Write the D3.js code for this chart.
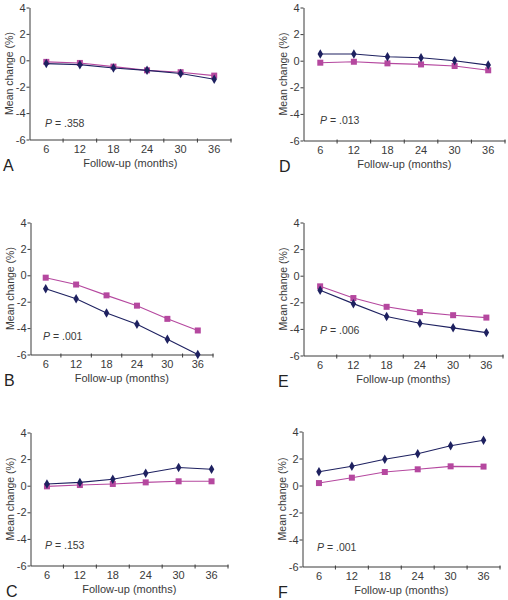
<!DOCTYPE html>
<html>
<head>
<meta charset="utf-8">
<script src="https://cdn.jsdelivr.net/npm/d3@7"></script>
<style>
  html, body { margin: 0; padding: 0; background: #fff; }
  svg { display: block; font-family: "Liberation Sans", Arial, sans-serif; }
</style>
</head>
<body>
<svg id="chart" width="508" height="600"></svg>
<script>
// ---- Data ----
const months = ["6", "12", "18", "24", "30", "36"];
const yTicks = [-6, -4, -2, 0, 2, 4];
const panelLetters = ["A", "B", "C", "D", "E", "F"];
const pValues = ["P = .358", "P = .001", "P = .153", "P = .013", "P = .006", "P = .001"];

const navyA = [-0.25, -0.33, -0.58, -0.76, -1.0, -1.44];
const pinkA = [-0.12, -0.2, -0.48, -0.76, -0.9, -1.16];
const navyB = [-1.02, -1.78, -2.85, -3.7, -4.85, -6.0];
const pinkB = [-0.18, -0.7, -1.52, -2.3, -3.3, -4.18];
const navyC = [0.13, 0.25, 0.48, 0.94, 1.37, 1.24];
const pinkC = [-0.05, 0.05, 0.13, 0.25, 0.33, 0.33];
const navyD = [0.5, 0.5, 0.3, 0.22, 0.0, -0.33];
const pinkD = [-0.15, -0.08, -0.2, -0.28, -0.4, -0.72];
const navyE = [-1.1, -2.1, -3.07, -3.57, -3.92, -4.28];
const pinkE = [-0.8, -1.68, -2.34, -2.74, -2.97, -3.15];
const navyF = [1.02, 1.42, 1.95, 2.35, 2.95, 3.35];
const pinkF = [0.18, 0.58, 1.0, 1.2, 1.42, 1.4];

const navySeries = [navyA, navyB, navyC, navyD, navyE, navyF];
const pinkSeries = [pinkA, pinkB, pinkC, pinkD, pinkE, pinkF];

// ---- Layout (positions only) ----
const layout = [
  { x0: 29.5, x1: 231, yTop: 7.5, yBot: 139.5, letterX: 3, pX: 45, pY: -4.75 },
  { x0: 30.5, x1: 213, yTop: 222.5, yBot: 354.5, letterX: 4, pX: 43, pY: -4.6 },
  { x0: 30.5, x1: 228, yTop: 432.5, yBot: 565.5, letterX: 6, pX: 45, pY: -4.45 },
  { x0: 303.5, x1: 505, yTop: 7.5, yBot: 140.5, letterX: 279, pX: 320, pY: -4.45 },
  { x0: 303.5, x1: 503, yTop: 222.5, yBot: 355.5, letterX: 278, pX: 320, pY: -4.1 },
  { x0: 302.5, x1: 500, yTop: 431.5, yBot: 566.5, letterX: 278, pX: 317, pY: -4.55 }
];

const navyColor = "#1e2160";
const pinkColor = "#b5489f";
const axisColor = "#3a3a3a";
const textColor = "#3a3a3a";

const svg = d3.select("#chart");

layout.forEach((L, i) => {
  const g = svg.append("g");
  const x = d3.scaleBand().domain(months).range([L.x0, L.x1]).padding(0);
  const y = d3.scaleLinear().domain([-6, 4]).range([L.yBot, L.yTop]);

  // Y axis
  const yAxis = g.append("g")
    .attr("transform", `translate(${L.x0},0)`)
    .call(d3.axisLeft(y).tickValues(yTicks).tickSize(3).tickSizeOuter(0).tickFormat(d3.format("d")));
  yAxis.select(".domain").attr("stroke", axisColor);
  yAxis.selectAll(".tick line").attr("stroke", axisColor);
  yAxis.selectAll(".tick text").attr("fill", textColor).attr("font-size", 11)
    .attr("font-family", "'Liberation Sans', Arial, sans-serif").attr("x", -4)
    .text(d => d < 0 ? "-" + Math.abs(d) : d);

  // X axis labels (band centers)
  const xAxis = g.append("g")
    .attr("transform", `translate(0,${L.yBot})`)
    .call(d3.axisBottom(x).tickSize(0).tickSizeOuter(0).tickPadding(6));
  xAxis.select(".domain").attr("stroke", axisColor);
  xAxis.selectAll(".tick text").attr("fill", textColor).attr("font-size", 11)
    .attr("font-family", "'Liberation Sans', Arial, sans-serif");

  // X boundary ticks
  const bounds = months.map(m => x(m)).concat([x(months[months.length - 1]) + x.bandwidth()]).slice(1);
  g.selectAll(".btick").data(bounds).enter().append("line")
    .attr("x1", d => d).attr("x2", d => d)
    .attr("y1", L.yBot - 1).attr("y2", L.yBot + 3)
    .attr("stroke", axisColor).attr("stroke-width", 1);

  // Axis titles
  g.append("text")
    .attr("transform", `translate(${L.x0 - 17},${(L.yTop + L.yBot) / 2}) rotate(-90)`)
    .attr("text-anchor", "middle")
    .attr("font-size", 10.5).attr("fill", textColor)
    .text("Mean change (%)");

  g.append("text")
    .attr("x", (L.x0 + L.x1) / 2)
    .attr("y", L.yBot + 27)
    .attr("text-anchor", "middle")
    .attr("font-size", 11).attr("fill", textColor)
    .text("Follow-up (months)");

  // Panel letter
  g.append("text")
    .attr("x", L.letterX)
    .attr("y", L.yBot + 31)
    .attr("font-size", 16).attr("fill", "#222")
    .text(panelLetters[i]);

  // P value
  const pt = g.append("text")
    .attr("x", L.pX)
    .attr("y", y(L.pY) + 4)
    .attr("font-size", 10.5).attr("fill", textColor);
  const parts = pValues[i].split(" ");
  pt.append("tspan").attr("font-style", "italic").text(parts[0]);
  pt.append("tspan").text(" " + parts.slice(1).join(" "));

  const line = d3.line().x((d, k) => x(months[k]) + x.bandwidth() / 2).y(d => y(d));

  // Pink series
  const pink = pinkSeries[i];
  g.append("path").datum(pink).attr("d", line)
    .attr("fill", "none").attr("stroke", pinkColor).attr("stroke-width", 1.1);
  g.selectAll(".sq").data(pink).enter().append("rect")
    .attr("x", (d, k) => x(months[k]) + x.bandwidth() / 2 - 3)
    .attr("y", d => y(d) - 3)
    .attr("width", 6).attr("height", 6)
    .attr("fill", pinkColor);

  // Navy series
  const navy = navySeries[i];
  g.append("path").datum(navy).attr("d", line)
    .attr("fill", "none").attr("stroke", navyColor).attr("stroke-width", 1.1);
  const sym = d3.symbol().type(d3.symbolDiamond).size(26);
  g.selectAll(".dm").data(navy).enter().append("path")
    .attr("d", sym)
    .attr("transform", (d, k) => `translate(${x(months[k]) + x.bandwidth() / 2},${y(d)})`)
    .attr("fill", navyColor);
});
</script>
</body>
</html>
